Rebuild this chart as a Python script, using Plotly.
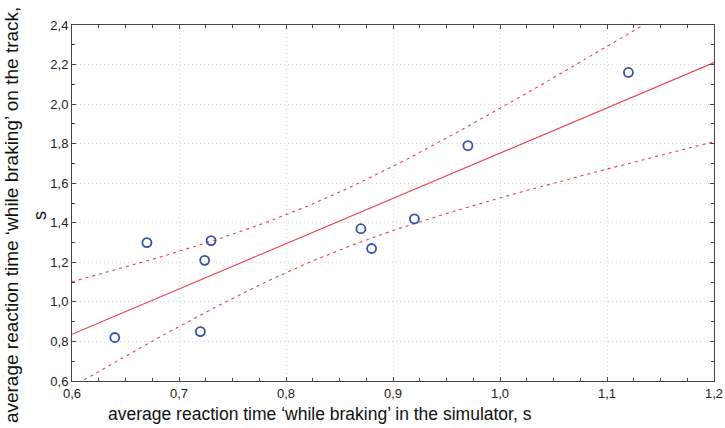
import numpy as np
import plotly.graph_objects as go

# Data
sim_time = [0.64, 0.67, 0.72, 0.724, 0.73, 0.87, 0.88, 0.92, 0.97, 1.12]
track_time = [0.82, 1.30, 0.85, 1.21, 1.31, 1.37, 1.27, 1.42, 1.79, 2.16]
x_ticks = [0.6, 0.7, 0.8, 0.9, 1.0, 1.1, 1.2]
y_ticks = [0.6, 0.8, 1.0, 1.2, 1.4, 1.6, 1.8, 2.0, 2.2, 2.4]

# Linear regression with 95% confidence band of the mean
x = np.array(sim_time)
y = np.array(track_time)
n = len(x)
b, a = np.polyfit(x, y, 1)
resid = y - (a + b * x)
s = np.sqrt(np.sum(resid ** 2) / (n - 2))
t_crit = 2.306  # t(0.975, df=8)
xx = np.linspace(0.6, 1.2, 121)
yfit = a + b * xx
half = t_crit * s * np.sqrt(1 / n + (xx - x.mean()) ** 2 / np.sum((x - x.mean()) ** 2))

red = "#e8404a"
fig = go.Figure()
fig.add_trace(go.Scatter(x=xx, y=yfit, mode="lines", line=dict(color=red, width=1.1), hoverinfo="skip"))
fig.add_trace(go.Scatter(x=xx, y=yfit + half, mode="lines", line=dict(color=red, width=1.1, dash="3px,4px"), hoverinfo="skip"))
fig.add_trace(go.Scatter(x=xx, y=yfit - half, mode="lines", line=dict(color=red, width=1.1, dash="3px,4px"), hoverinfo="skip"))
fig.add_trace(go.Scatter(x=sim_time, y=track_time, mode="markers",
                         marker=dict(symbol="circle-open", size=9, color="#3550a8", line=dict(width=1.8))))

font = "Liberation Sans, Arial, sans-serif"
axis_common = dict(
    showline=True, linecolor="#444", linewidth=1, mirror="allticks",
    ticks="inside", ticklen=4, tickcolor="#444",
    showgrid=True, gridcolor="#d4d4d4", griddash="1px,3px", gridwidth=1,
    zeroline=False, tickformat=".1f", automargin=False,
    tickfont=dict(family=font, size=13, color="#222"),
)
fig.update_xaxes(range=[0.6, 1.2], tickvals=x_ticks,
                 minor=dict(ticks="inside", dtick=0.025, ticklen=3, tickcolor="#444", showgrid=False),
                 **axis_common)
fig.update_yaxes(range=[0.6, 2.4], tickvals=y_ticks,
                 minor=dict(ticks="inside", dtick=0.1, ticklen=3, tickcolor="#444", showgrid=False),
                 **axis_common)

fig.add_annotation(text="average reaction time \u2018while braking\u2019 in the simulator, s",
                   xref="paper", yref="paper", x=0.386, y=-0.093, showarrow=False,
                   xanchor="center", yanchor="middle",
                   font=dict(family=font, size=17.5, color="#111"))
fig.add_annotation(text="average reaction time \u2018while braking\u2019 on the track,",
                   xref="paper", yref="paper", x=-0.095, y=0.466, showarrow=False,
                   textangle=-90, xanchor="center", yanchor="middle",
                   font=dict(family=font, size=19, color="#111"))
fig.add_annotation(text="s",
                   xref="paper", yref="paper", x=-0.05, y=0.466, showarrow=False,
                   textangle=-90, xanchor="center", yanchor="middle",
                   font=dict(family=font, size=18, color="#111"))

fig.update_layout(
    width=725, height=428,
    margin=dict(l=72, r=11, t=25, b=47, autoexpand=False),
    plot_bgcolor="white", paper_bgcolor="white",
    showlegend=False, separators=", ",
)
# remove the default 8px page margin so the figure fills the window exactly
fig.write_html("out.html", config={"displayModeBar": False},
               post_script="document.body.style.margin='0';document.body.style.overflow='hidden';")
